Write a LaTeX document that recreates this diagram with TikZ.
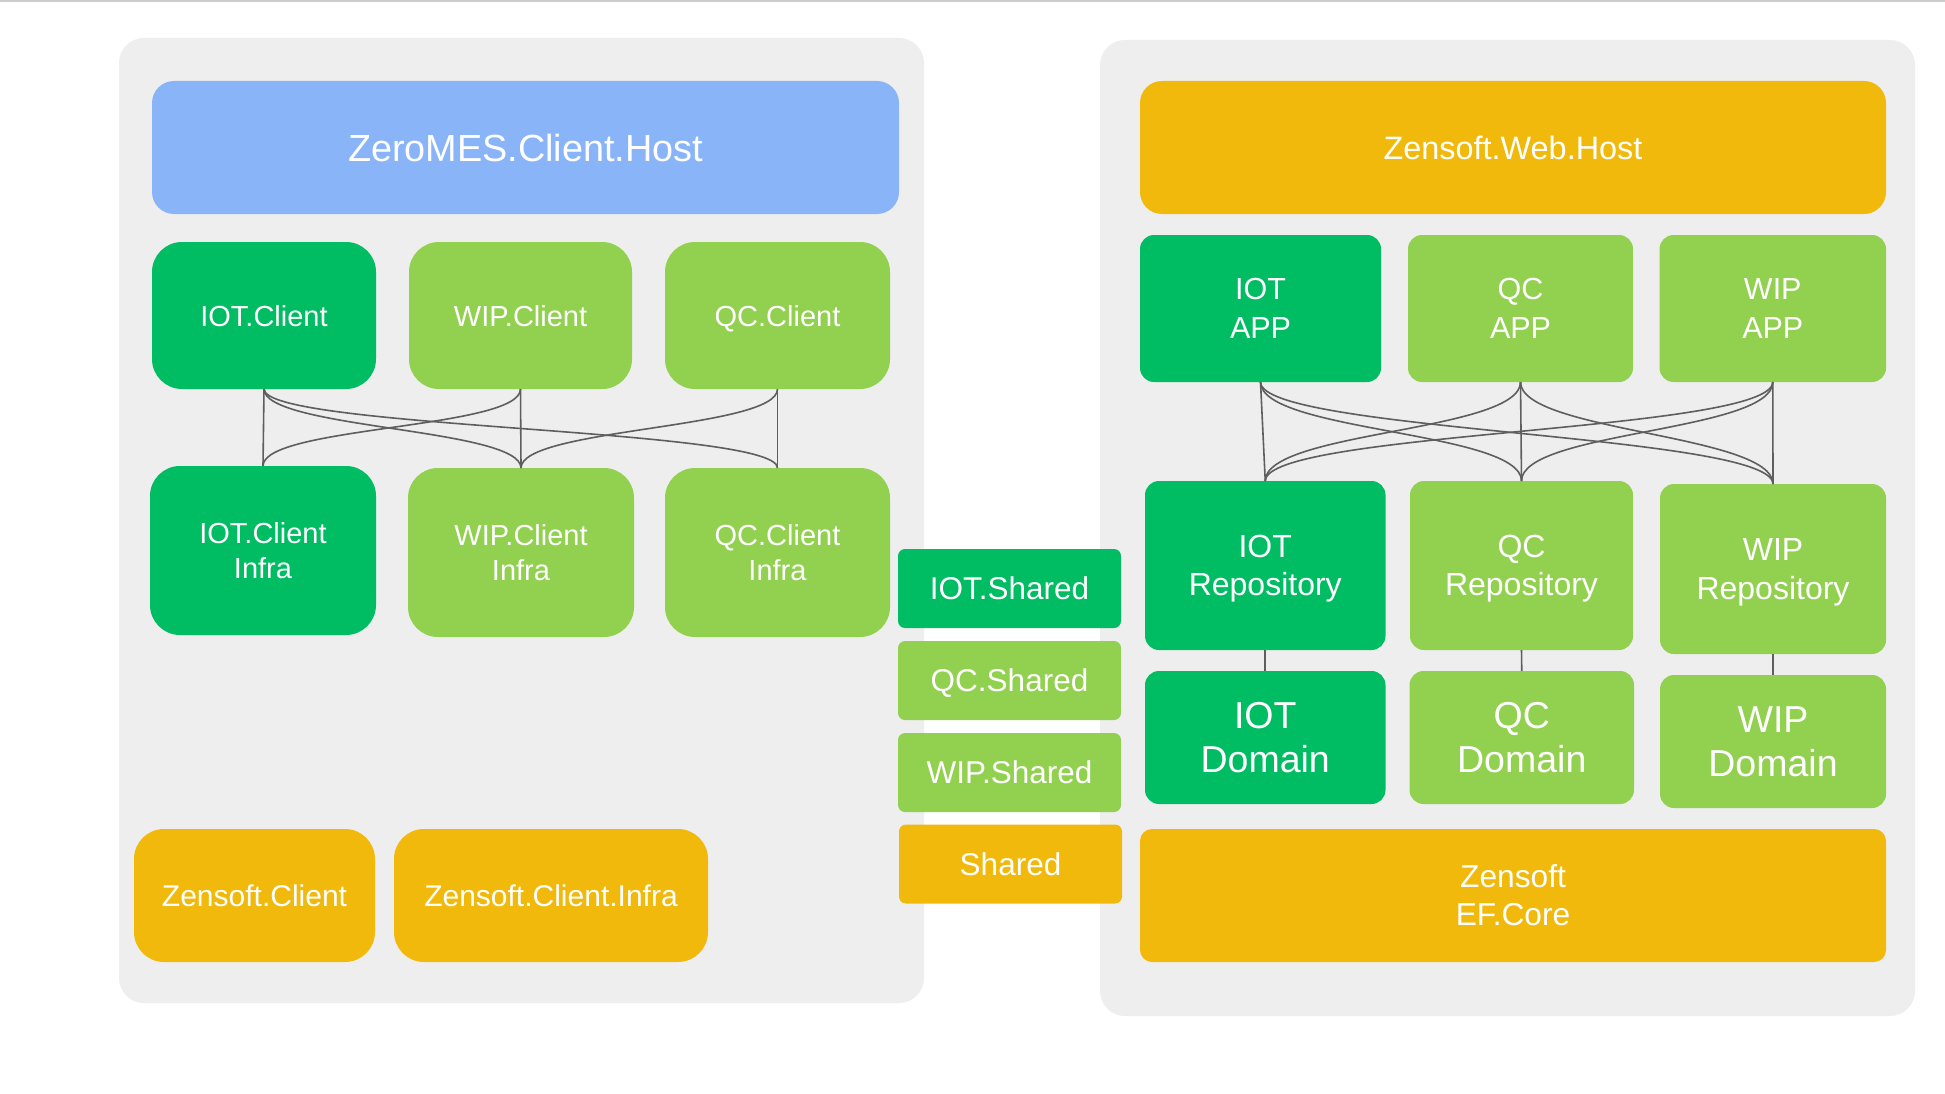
\documentclass[tikz,border=0pt]{standalone}
\usepackage{fontspec}
\setmainfont{Liberation Sans}
\definecolor{dkgreen}{HTML}{00BC62}
\definecolor{ltgreen}{HTML}{92D050}
\definecolor{amber}{HTML}{F0B90B}
\definecolor{skyblue}{HTML}{8AB4F8}
\definecolor{panelgray}{HTML}{EEEEEE}
\definecolor{wirecol}{HTML}{5E5E5E}
\definecolor{topline}{HTML}{CCCCCC}
\begin{document}
\begin{tikzpicture}[x=1pt,y=-1pt,
  box/.style={inner sep=0pt, outer sep=0pt, text=white, align=center, draw=none, text depth=0pt},
  panel/.style={fill=panelgray, draw=none, rounded corners=25pt},
  hostbox/.style={box, rounded corners=22pt, minimum height=133pt},
  clientbox/.style={box, rounded corners=30pt, font=\fontsize{29}{35}\selectfont},
  appbox/.style={box, rounded corners=14pt, font=\fontsize{30.5}{38.5}\selectfont},
  repobox/.style={box, rounded corners=14pt, font=\fontsize{32}{38.5}\selectfont},
  domainbox/.style={box, rounded corners=14pt, font=\fontsize{37.5}{44.5}\selectfont},
  sharedbox/.style={box, rounded corners=7pt, minimum width=223pt, minimum height=79pt, font=\fontsize{31.5}{38}\selectfont},
  wire/.style={draw=wirecol, line width=1.6pt}
]
\useasboundingbox (0,0) rectangle (1945,1094);
\fill[white] (0,0) rectangle (1945,1094);
\draw[topline, line width=2pt] (0,1) -- (1945,1);

% panels
\path[panel] (119,38) rectangle (924,1003);
\path[panel] (1100,40) rectangle (1915,1016);

% left panel
\node[hostbox, fill=skyblue, minimum width=747pt, font=\fontsize{37.8}{45}\selectfont] (zhost) at (525.5,147.5) {ZeroMES.Client.Host};

\node[clientbox, fill=dkgreen, minimum width=224pt, minimum height=147pt] (iotc) at (264,315.5) {IOT.Client};
\node[clientbox, fill=ltgreen, minimum width=223pt, minimum height=147pt] (wipc) at (520.5,315.5) {WIP.Client};
\node[clientbox, fill=ltgreen, minimum width=225pt, minimum height=147pt] (qcc) at (777.5,315.5) {QC.Client};

\node[clientbox, fill=dkgreen, minimum width=226pt, minimum height=169pt] (iotci) at (263,550.5) {IOT.Client\\Infra};
\node[clientbox, fill=ltgreen, minimum width=226pt, minimum height=169pt] (wipci) at (521,552.5) {WIP.Client\\Infra};
\node[clientbox, fill=ltgreen, minimum width=225pt, minimum height=169pt] (qcci) at (777.5,552.5) {QC.Client\\Infra};

\node[clientbox, fill=amber, minimum width=241pt, minimum height=133pt, font=\fontsize{30}{36}\selectfont] (zcl) at (254.5,895.5) {Zensoft.Client};
\node[clientbox, fill=amber, minimum width=314pt, minimum height=133pt, font=\fontsize{30}{36}\selectfont] (zcli) at (551,895.5) {Zensoft.Client.Infra};

% shared column
\node[sharedbox, fill=dkgreen] (iots) at (1009.5,588.5) {IOT.Shared};
\node[sharedbox, fill=ltgreen] (qcs) at (1009.5,680.5) {QC.Shared};
\node[sharedbox, fill=ltgreen] (wips) at (1009.5,772.5) {WIP.Shared};
\node[sharedbox, fill=amber] (shared) at (1010.5,864) {Shared};

% right panel
\node[hostbox, fill=amber, minimum width=746pt, font=\fontsize{32.4}{39}\selectfont] (whost) at (1513,147.5) {Zensoft.Web.Host};

\node[appbox, fill=dkgreen, minimum width=241pt, minimum height=147pt] (iota) at (1260.5,308.5) {IOT\\APP};
\node[appbox, fill=ltgreen, minimum width=225pt, minimum height=147pt] (qca) at (1520.5,308.5) {QC\\APP};
\node[appbox, fill=ltgreen, minimum width=226.5pt, minimum height=147pt] (wipa) at (1772.75,308.5) {WIP\\APP};

\node[repobox, fill=dkgreen, minimum width=240.5pt, minimum height=169pt] (iotr) at (1265.25,565.5) {IOT\\Repository};
\node[repobox, fill=ltgreen, minimum width=223pt, minimum height=169pt] (qcr) at (1521.5,565.5) {QC\\Repository};
\node[repobox, fill=ltgreen, minimum width=226pt, minimum height=170pt] (wipr) at (1773,569) {WIP\\Repository};

\node[domainbox, fill=dkgreen, minimum width=240.5pt, minimum height=133pt] (iotd) at (1265.25,737.5) {IOT\\Domain};
\node[domainbox, fill=ltgreen, minimum width=224.5pt, minimum height=133pt] (qcd) at (1521.75,737.5) {QC\\Domain};
\node[domainbox, fill=ltgreen, minimum width=226pt, minimum height=133pt] (wipd) at (1773,741.5) {WIP\\Domain};

\node[box, fill=amber, rounded corners=12pt, minimum width=746pt, minimum height=133pt, font=\fontsize{31.7}{38}\selectfont] (efcore) at (1513,895.5) {Zensoft\\EF.Core};

% left connectors
\draw[wire] (iotc.south) -- (iotci.north);
\draw[wire] (iotc.south) .. controls +(0,40) and +(0,-40) .. (wipci.north);
\draw[wire] (iotc.south) .. controls +(0,40) and +(0,-40) .. (qcci.north);
\draw[wire] (wipc.south) .. controls +(0,40) and +(0,-40) .. (iotci.north);
\draw[wire] (wipc.south) -- (wipci.north);
\draw[wire] (qcc.south) .. controls +(0,40) and +(0,-40) .. (wipci.north);
\draw[wire] (qcc.south) -- (qcci.north);

% right connectors
\draw[wire] (iota.south) -- (iotr.north);
\draw[wire] (iota.south) .. controls +(0,50) and +(0,-50) .. (qcr.north);
\draw[wire] (iota.south) .. controls +(0,50) and +(0,-50) .. (wipr.north);
\draw[wire] (qca.south) .. controls +(0,50) and +(0,-50) .. (iotr.north);
\draw[wire] (qca.south) -- (qcr.north);
\draw[wire] (qca.south) .. controls +(0,50) and +(0,-50) .. (wipr.north);
\draw[wire] (wipa.south) .. controls +(0,50) and +(0,-50) .. (iotr.north);
\draw[wire] (wipa.south) .. controls +(0,50) and +(0,-50) .. (qcr.north);
\draw[wire] (wipa.south) -- (wipr.north);

\draw[wire] (iotr.south) -- (iotd.north);
\draw[wire] (qcr.south) -- (qcd.north);
\draw[wire] (wipr.south) -- (wipd.north);
\end{tikzpicture}
\end{document}
